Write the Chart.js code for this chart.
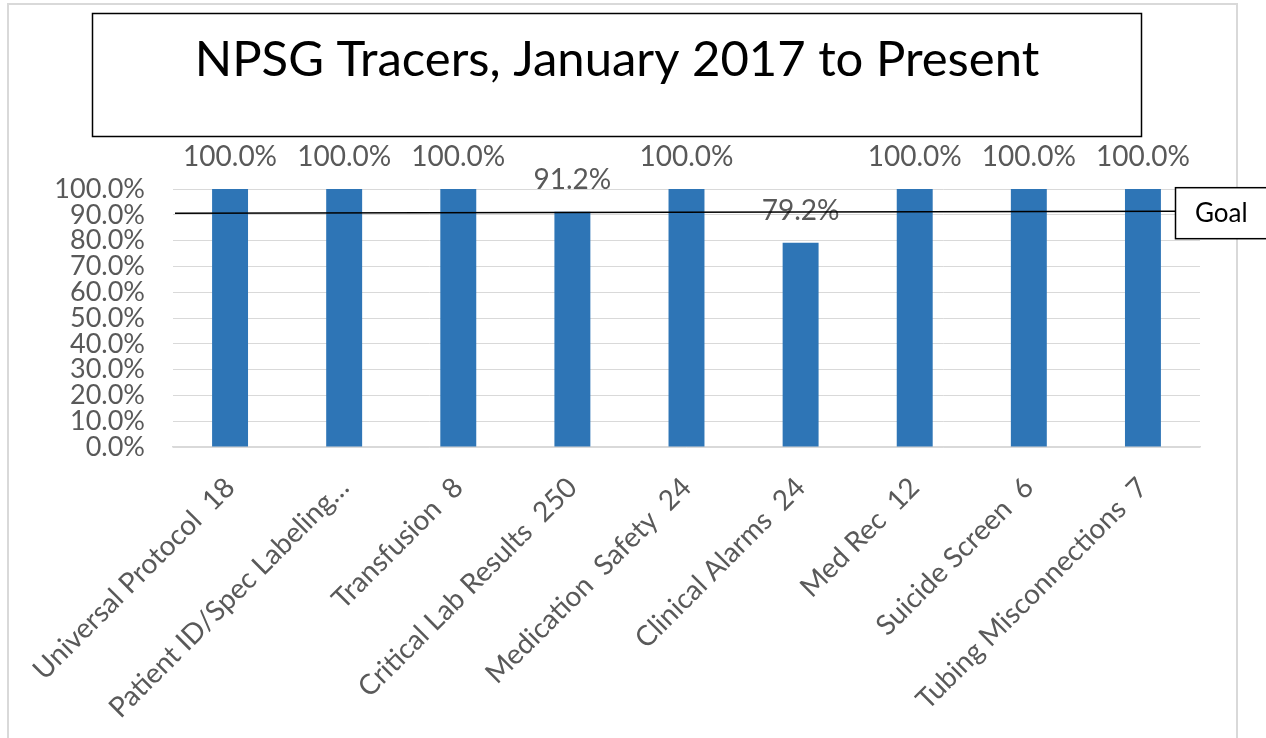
<!DOCTYPE html>
<html><head><meta charset="utf-8">
<script src="https://cdn.jsdelivr.net/npm/chart.js@4.4.1/dist/chart.umd.min.js"></script>
<style>html,body{margin:0;padding:0;background:#fff;overflow:hidden}</style>
</head><body>
<canvas id="c" width="1266" height="738"></canvas>
<script>
const categories = ["Universal Protocol  18", "Patient ID/Spec Labeling\u2026", "Transfusion  8", "Critical Lab Results  250", "Medication  Safety  24", "Clinical Alarms  24", "Med Rec  12", "Suicide Screen  6", "Tubing Misconnections  7"];
const values = [100, 100, 100, 91.2, 100, 79.2, 100, 100, 100];
const yMin = 0, yMax = 100, yStep = 10;
const goalLine = [90.6, 91.4];   // start / end value of the drawn goal line
const titleText = "NPSG Tracers, January 2017 to Present";
const goalLabel = "Goal";

const FONT = "Lato";
const GRAY = "#595959";

const decor = {
  id: 'decor',
  beforeDraw(chart) {
    const ctx = chart.ctx;
    ctx.save();
    ctx.fillStyle = '#fff';
    ctx.fillRect(0, 0, chart.width, chart.height);
    // outer chart border
    ctx.strokeStyle = '#d9d9d9';
    ctx.lineWidth = 2;
    ctx.strokeRect(8, 4, 1229, 800);
    // title box
    ctx.strokeStyle = '#000';
    ctx.lineWidth = 1.5;
    ctx.strokeRect(92.5, 13.5, 1049, 123);
    ctx.fillStyle = '#000';
    ctx.font = `49px ${FONT}`;
    ctx.textAlign = 'center';
    ctx.textBaseline = 'alphabetic';
    ctx.fillText(titleText, 617, 76);
    ctx.restore();
  },
  afterDatasetsDraw(chart) {
    const ctx = chart.ctx;
    const meta = chart.getDatasetMeta(0);
    const y = chart.scales.y;
    const area = chart.chartArea;
    ctx.save();
    // data labels
    ctx.fillStyle = GRAY;
    ctx.font = `28px ${FONT}`;
    ctx.textAlign = 'center';
    ctx.textBaseline = 'middle';
    meta.data.forEach((bar, i) => {
      ctx.fillText(values[i].toFixed(1) + '%', bar.x, bar.y - 32);
    });
    // goal line
    const boxLeft = area.right - 25;
    ctx.strokeStyle = '#000';
    ctx.lineWidth = 1.5;
    ctx.beginPath();
    ctx.moveTo(area.left + 2, y.getPixelForValue(goalLine[0]));
    ctx.lineTo(boxLeft, y.getPixelForValue(goalLine[1]));
    ctx.stroke();
    // goal box
    const gy = y.getPixelForValue(goalLine[1]);
    ctx.fillStyle = '#fff';
    ctx.fillRect(boxLeft, gy - 24, 120, 51);
    ctx.strokeRect(boxLeft + 0.5, gy - 24 + 0.5, 120, 51);
    ctx.fillStyle = '#000';
    ctx.font = `26px ${FONT}`;
    ctx.textAlign = 'left';
    ctx.fillText(goalLabel, boxLeft + 20, gy + 2);
    ctx.restore();
  }
};

new Chart(document.getElementById('c'), {
  type: 'bar',
  data: {
    labels: categories,
    datasets: [{
      data: values,
      backgroundColor: '#2e75b6',
      borderWidth: 0,
      barPercentage: 0.315,
      categoryPercentage: 1
    }]
  },
  options: {
    responsive: false,
    animation: false,
    devicePixelRatio: 1,
    layout: { padding: { left: 0, right: 66, top: 189, bottom: 0 } },
    plugins: { legend: { display: false }, tooltip: { enabled: false }, title: { display: false } },
    scales: {
      x: {
        grid: { display: false, drawTicks: false },
        border: { display: true, color: '#d9d9d9', width: 1.5 },
        ticks: {
          color: GRAY, font: { family: FONT, size: 28 },
          minRotation: 45, maxRotation: 45, autoSkip: false, padding: 24
        },
        afterFit(s) { s.height = 738 - 189 - 258; s.paddingLeft = 0; s.paddingRight = 0; }
      },
      y: {
        min: yMin, max: yMax,
        grid: { color: '#d9d9d9', lineWidth: 1, drawTicks: false },
        border: { display: false },
        ticks: {
          stepSize: yStep, autoSkip: false, color: GRAY, font: { family: FONT, size: 27, lineHeight: 1 },
          padding: 28, callback: v => v.toFixed(1) + '%'
        },
        afterFit(s) { s.width = 173; }
      }
    }
  },
  plugins: [decor]
});
</script>
</body></html>
